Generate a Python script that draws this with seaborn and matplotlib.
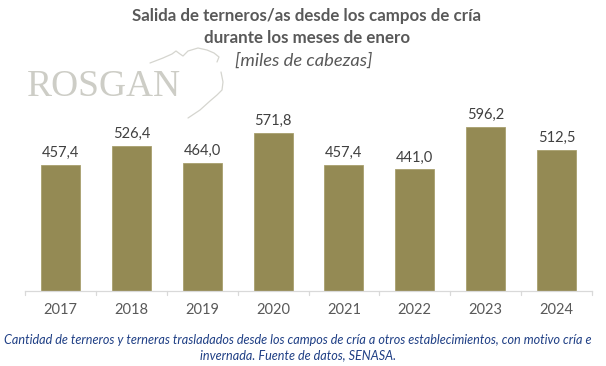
import pandas as pd
import seaborn as sns
import matplotlib.pyplot as plt
from matplotlib.lines import Line2D

# datos
years = ["2017", "2018", "2019", "2020", "2021", "2022", "2023", "2024"]
values = [457.4, 526.4, 464.0, 571.8, 457.4, 441.0, 596.2, 512.5]
labels = ["457,4", "526,4", "464,0", "571,8", "457,4", "441,0", "596,2", "512,5"]

title = "Salida de terneros/as desde los campos de cría\ndurante los meses de enero"
subtitle = "[miles de cabezas]"
caption = ("Cantidad de terneros y terneras trasladados desde los campos de cría a otros establecimientos, con motivo cría e\n"
           "invernada. Fuente de datos, SENASA.")

sns.set_style("white")
plt.rcParams['font.family'] = ['Lato', 'DejaVu Sans']

df = pd.DataFrame({"year": years, "value": values})

W, H = 606, 366
fig = plt.figure(figsize=(W / 100, H / 100), dpi=100)
ax = fig.add_axes([25 / W, 1 - 291 / H, 567 / W, 193 / H])
ax.patch.set_alpha(0)

sns.barplot(data=df, x="year", y="value", color="#948A54", saturation=1,
            width=0.55, edgecolor="#A89F6E", linewidth=0.6, ax=ax)

ax.set_ylim(0, 700)
ax.set_xlim(-0.5, len(years) - 0.5)
for i, (v, lab) in enumerate(zip(values, labels)):
    ax.text(i, v + 18, lab, ha="center", va="bottom", fontsize=10.5, color="#404040")

ax.set_xlabel("")
ax.set_ylabel("")
ax.set_yticks([])
ax.tick_params(axis="x", length=0, labelsize=10.5, labelcolor="#595959", pad=9)
for s in ["top", "right", "left"]:
    ax.spines[s].set_visible(False)
ax.spines["bottom"].set_color("#D9D9D9")
ax.spines["bottom"].set_linewidth(0.9)
# marcas entre categorias
for x in range(len(years) + 1):
    ax.plot([x - 0.5, x - 0.5], [0, -13], color="#D9D9D9", lw=0.9, clip_on=False)

# logo (texto + contorno del toro)
fig.text(27 / W, 1 - 87 / H, "ROSGAN", fontsize=27, color="#CDCDC6",
         family=["Liberation Serif", "DejaVu Serif"], ha="left", va="center")
bull_top = [(150, 63), (163, 58), (172, 54), (176, 51), (180, 54), (183, 56), (188, 51),
            (198, 48), (207, 50), (214, 53), (219, 57), (217, 62)]
bull_side = [(221, 72), (223, 82), (222, 90), (217, 95), (210, 101), (200, 110), (188, 118)]
for pts in (bull_top, bull_side):
    fig.add_artist(Line2D([p[0] / W for p in pts], [1 - p[1] / H for p in pts],
                          color="#D5D5CF", lw=0.9, transform=fig.transFigure))

fig.text(307 / W, 1 - 27 / H, title, ha="center", va="center", fontsize=12.2,
         fontweight="bold", color="#595959", linespacing=1.4)
fig.text(304 / W, 1 - 61 / H, subtitle, ha="center", va="center", fontsize=13.2,
         style="italic", color="#595959")
fig.text(298 / W, 1 - 348 / H, caption, ha="center", va="center", fontsize=9.1,
         style="italic", color="#1F3F85", linespacing=1.3)

fig.savefig("out.png", dpi=100)
